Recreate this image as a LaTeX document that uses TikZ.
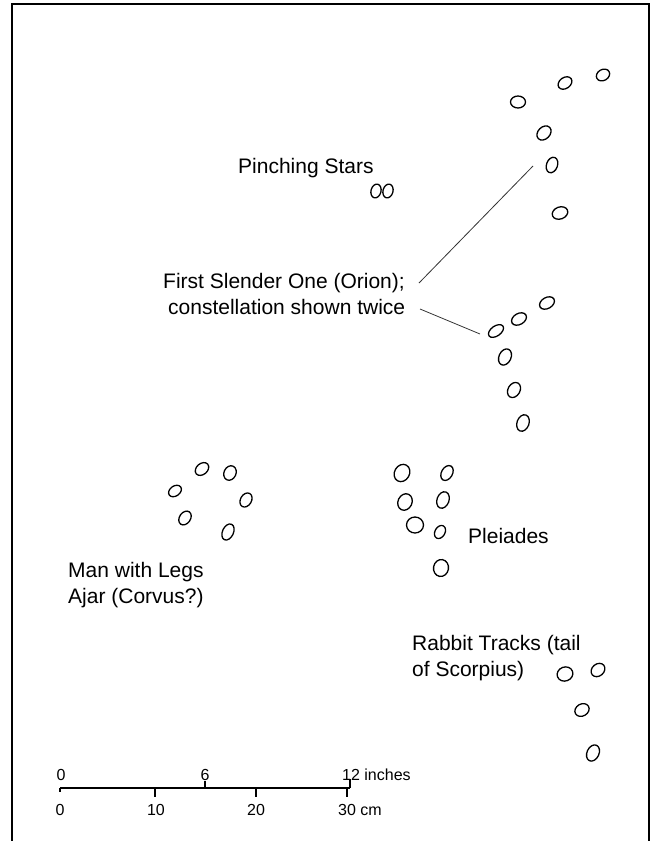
\documentclass[tikz,border=0pt]{standalone}
\usepackage{fontspec}
\setmainfont{Liberation Sans}
\usetikzlibrary{shapes.geometric}
\begin{document}
\begin{tikzpicture}[x=1pt,y=-1pt,
  st/.style={draw, ellipse, inner sep=0pt, line width=1.3pt},
  lbl/.style={inner sep=0pt, anchor=base west, font=\fontsize{21}{26}\selectfont},
  sc/.style={inner sep=0pt, anchor=base, font=\fontsize{16}{19}\selectfont},
  scw/.style={inner sep=0pt, anchor=base west, font=\fontsize{16}{19}\selectfont},
  leader/.style={line width=0.8pt, draw=black!80},
  frame/.style={line width=1.6pt},
  bar/.style={line width=1.2pt}]
\useasboundingbox (0,0) rectangle (652,841);
\draw[frame] (12,841) -- (12,4) -- (649,4) -- (649,841);
% Upper Orion
\node[st, minimum width=15pt, minimum height=12pt] (u1) at (518,102) {};
\node[st, minimum width=15pt, minimum height=11pt, rotate=35] (u2) at (565,83) {};
\node[st, minimum width=14pt, minimum height=11pt, rotate=30] (u3) at (603,75) {};
\node[st, minimum width=16pt, minimum height=12pt, rotate=45] (u4) at (544,133) {};
\node[st, minimum width=11pt, minimum height=16pt, rotate=-20] (u5) at (552,165) {};
\node[st, minimum width=16pt, minimum height=12pt, rotate=20] (u6) at (560,213) {};
% Pinching stars
\node[st, minimum width=10pt, minimum height=14pt, rotate=-15] (p1) at (376,191) {};
\node[st, minimum width=10pt, minimum height=14pt, rotate=-15] (p2) at (388,191) {};
% Lower Orion
\node[st, minimum width=16pt, minimum height=11pt, rotate=30] (l1) at (547,303) {};
\node[st, minimum width=16pt, minimum height=11pt, rotate=30] (l2) at (519,319) {};
\node[st, minimum width=17pt, minimum height=10pt, rotate=35] (l3) at (496,331) {};
\node[st, minimum width=12pt, minimum height=17pt, rotate=-25] (l4) at (505,357) {};
\node[st, minimum width=12pt, minimum height=16pt, rotate=-30] (l5) at (514,390) {};
\node[st, minimum width=12pt, minimum height=17pt, rotate=-20] (l6) at (523,423) {};
% Corvus
\node[st, minimum width=15pt, minimum height=11pt, rotate=40] (c1) at (202,469) {};
\node[st, minimum width=12pt, minimum height=15pt, rotate=-25] (c2) at (230,473) {};
\node[st, minimum width=14pt, minimum height=10pt, rotate=35] (c3) at (175,491) {};
\node[st, minimum width=11pt, minimum height=15pt, rotate=-30] (c4) at (246,500) {};
\node[st, minimum width=11pt, minimum height=15pt, rotate=-35] (c5) at (185,518) {};
\node[st, minimum width=11pt, minimum height=17pt, rotate=-25] (c6) at (228,532) {};
% Pleiades
\node[st, minimum width=15pt, minimum height=18pt, rotate=-30] (e1) at (402,473) {};
\node[st, minimum width=11pt, minimum height=16pt, rotate=-30] (e2) at (447,473) {};
\node[st, minimum width=14pt, minimum height=17pt, rotate=-25] (e3) at (405,502) {};
\node[st, minimum width=12pt, minimum height=17pt, rotate=-20] (e4) at (443,500) {};
\node[st, minimum width=17pt, minimum height=16pt] (e5) at (415,525) {};
\node[st, minimum width=10pt, minimum height=14pt, rotate=-30] (e6) at (440,532) {};
\node[st, minimum width=15pt, minimum height=17pt, rotate=-10] (e7) at (441,568) {};
% Scorpius
\node[st, minimum width=16pt, minimum height=14pt, rotate=20] (s1) at (565,674) {};
\node[st, minimum width=15pt, minimum height=12pt, rotate=40] (s2) at (598,670) {};
\node[st, minimum width=15pt, minimum height=12pt, rotate=30] (s3) at (582,710) {};
\node[st, minimum width=12pt, minimum height=17pt, rotate=-25] (s4) at (593,753) {};
% Labels
\node[lbl] (pinch) at (238,173) {Pinching Stars};
\node[lbl] (orA) at (163,288) {First Slender One (Orion);};
\node[lbl] (orB) at (168,314) {constellation shown twice};
\node[lbl] (manA) at (68,577) {Man with Legs};
\node[lbl] (manB) at (68,603) {Ajar (Corvus?)};
\node[lbl] (plei) at (468,543) {Pleiades};
\node[lbl] (rabA) at (412,650) {Rabbit Tracks (tail};
\node[lbl] (rabB) at (412,676) {of Scorpius)};
% Leaders
\coordinate (la1) at (419,283);
\coordinate (la2) at (533,166);
\coordinate (lb1) at (420,309);
\coordinate (lb2) at (480,334);
\draw[leader] (la1) -- (la2);
\draw[leader] (lb1) -- (lb2);
% Scale bar
\coordinate (b0) at (60,788);
\coordinate (b12) at (350,788);
\draw[bar] (b0) -- (b12);
\draw[bar] (b0) -- ++(0,4);
\draw[bar] (205,788) -- (205,781);
\draw[bar] (b12) -- (350,779);
\draw[bar] (155,788) -- (155,797);
\draw[bar] (256,788) -- (256,797);
\draw[bar] (347,788) -- (347,797);
\node[sc] (t0) at (61,780) {0};
\node[sc] (t6) at (205,780) {6};
\node[scw] (t12) at (342,780) {12 inches};
\node[sc] (c0) at (60,815) {0};
\node[sc] (c10) at (156,815) {10};
\node[sc] (c20) at (256,815) {20};
\node[scw] (c30) at (338,815) {30 cm};
\end{tikzpicture}
\end{document}
